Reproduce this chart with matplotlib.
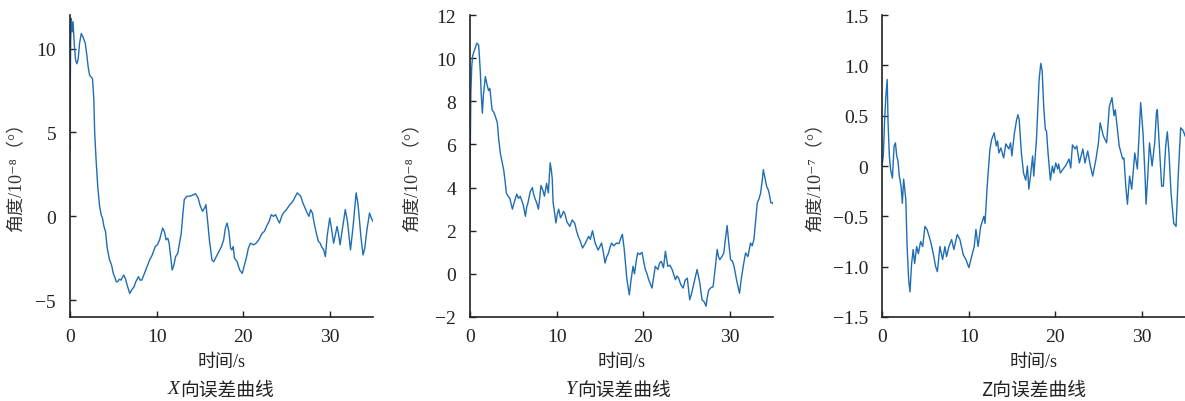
import matplotlib
matplotlib.use('Agg')
import matplotlib.pyplot as plt

# X direction error, unit 1e-8 deg
x_t = [0.0, 0.03, 0.08, 0.15, 0.25, 0.35, 0.5, 0.65, 0.8, 0.95, 1.1, 1.3, 1.5, 1.77, 1.95,
       2.1, 2.27, 2.45, 2.6, 2.75, 2.85, 3.0, 3.2, 3.42, 3.6, 3.75, 3.92, 4.1, 4.3, 4.57,
       4.8, 5.0, 5.15, 5.35, 5.5, 5.7, 5.9, 6.2, 6.4, 6.6, 6.9, 7.1, 7.4, 7.6, 7.9,
       8.1, 8.3, 8.6, 8.9, 9.2, 9.5, 9.85, 10.1, 10.35, 10.55, 10.7, 10.9, 11.1, 11.3, 11.45,
       11.8, 12.0, 12.2, 12.45, 12.65, 12.85, 13.05, 13.2, 13.5, 13.8, 14.1, 14.5, 14.8, 15.0, 15.3,
       15.55, 15.7, 15.9, 16.1, 16.4, 16.6, 16.9, 17.2, 17.5, 17.75, 17.95, 18.15, 18.35, 18.55, 18.7,
       18.85, 19.0, 19.3, 19.6, 19.9, 20.1, 20.4, 20.6, 20.85, 21.2, 21.5, 21.8, 22.0, 22.2, 22.45,
       22.7, 23.0, 23.25, 23.5, 23.75, 24.0, 24.2, 24.45, 24.65, 25.0, 25.4, 25.6, 25.85, 26.05, 26.25,
       26.45, 26.65, 26.9, 27.15, 27.4, 27.6, 27.8, 28.0, 28.2, 28.45, 28.7, 28.9, 29.05, 29.3, 29.5,
       29.7, 30.0, 30.2, 30.45, 30.65, 30.85, 31.0, 31.2, 31.45, 31.8, 32.05, 32.4, 32.7, 33.05, 33.25,
       33.4, 33.6, 33.85, 34.05, 34.3, 34.6, 34.8, 35.0]
x_v = [4.0, 7.5, 10.5, 11.8, 11.0, 11.6, 10.2, 9.3, 9.1, 9.4, 10.3, 10.9, 10.7, 10.3, 9.6,
       8.9, 8.4, 8.3, 8.2, 7.0, 5.0, 3.5, 1.8, 0.6, 0.1, -0.1, -0.6, -0.9, -1.9, -2.6,
       -2.9, -3.4, -3.6, -3.9, -3.9, -3.75, -3.8, -3.5, -3.7, -4.1, -4.6, -4.4, -4.2, -3.9, -3.6,
       -3.8, -3.8, -3.4, -3.0, -2.6, -2.3, -1.8, -1.7, -1.4, -1.0, -0.7, -0.9, -1.4, -1.3, -1.6,
       -3.2, -2.9, -2.4, -2.2, -1.6, -1.0, 0.2, 1.0, 1.2, 1.2, 1.25, 1.35, 1.1, 0.7, 0.3,
       0.5, 0.7, -0.3, -1.4, -2.6, -2.7, -2.4, -2.1, -1.8, -1.4, -0.7, -0.4, -0.9, -1.9, -2.0,
       -1.8, -2.5, -2.7, -3.2, -3.4, -3.0, -2.4, -1.9, -1.6, -1.7, -1.6, -1.4, -1.2, -1.0, -0.9,
       -0.6, -0.3, 0.1, 0.0, 0.1, -0.2, -0.4, 0.0, 0.2, 0.4, 0.7, 0.8, 1.0, 1.2, 1.4,
       1.3, 1.2, 0.8, 0.5, 0.2, 0.0, 0.4, 0.2, -0.4, -1.0, -1.5, -1.6, -1.8, -2.0, -2.4,
       -1.2, -0.1, -0.7, -1.6, -1.1, -0.6, -1.0, -1.7, -0.8, 0.4, -0.3, -2.0, -0.6, 1.4, 0.8,
       0.0, -1.2, -2.3, -1.9, -0.8, 0.2, -0.1, -0.3]

# Y direction error, unit 1e-8 deg
y_t = [0.0, 0.04, 0.1, 0.2, 0.3, 0.45, 0.55, 0.7, 0.8, 1.0, 1.1, 1.2, 1.3, 1.43, 1.55,
       1.77, 1.95, 2.15, 2.3, 2.55, 2.75, 2.93, 3.16, 3.3, 3.5, 3.7, 3.9, 4.05, 4.2, 4.4,
       4.6, 4.9, 5.1, 5.4, 5.6, 5.8, 6.15, 6.4, 6.55, 6.7, 6.95, 7.2, 7.35, 7.5, 7.7,
       7.9, 8.05, 8.2, 8.4, 8.6, 8.85, 9.05, 9.26, 9.4, 9.5, 9.6, 9.75, 9.92, 10.1, 10.25,
       10.45, 10.6, 10.8, 10.95, 11.2, 11.53, 11.8, 12.1, 12.3, 12.5, 12.75, 13.0, 13.3, 13.7, 13.9,
       14.15, 14.45, 14.8, 15.2, 15.4, 15.6, 15.8, 15.97, 16.15, 16.35, 16.6, 16.93, 17.2, 17.5, 17.6,
       17.8, 18.13, 18.4, 18.6, 18.83, 19.0, 19.2, 19.37, 19.6, 19.87, 20.05, 20.25, 20.45, 20.64, 21.03,
       21.2, 21.4, 21.7, 21.9, 22.1, 22.35, 22.57, 22.85, 23.1, 23.35, 23.73, 23.9, 24.1, 24.35, 24.62,
       24.85, 25.1, 25.38, 25.6, 25.77, 26.0, 26.23, 26.54, 26.8, 27.05, 27.27, 27.4, 27.58, 27.8, 28.08,
       28.35, 28.55, 28.7, 28.86, 29.1, 29.32, 29.5, 29.7, 29.9, 30.1, 30.3, 30.5, 30.8, 31.13, 31.35,
       31.56, 31.83, 32.1, 32.4, 32.6, 32.8, 33.0, 33.18, 33.4, 33.57, 33.75, 33.88, 34.05, 34.27, 34.45,
       34.58, 34.75, 34.95, 35.0]
y_v = [2.0, 6.0, 8.4, 9.6, 10.1, 10.3, 10.4, 10.6, 10.7, 10.6, 10.0, 9.3, 8.3, 7.45, 8.3,
       9.15, 8.8, 8.5, 8.6, 7.6, 7.5, 7.3, 7.0, 6.3, 5.6, 5.2, 4.8, 4.3, 3.75, 3.6,
       3.5, 3.0, 3.3, 3.7, 3.5, 3.6, 3.2, 2.67, 3.1, 3.3, 3.8, 4.0, 3.7, 3.5, 3.3,
       3.0, 3.5, 4.1, 3.9, 3.6, 4.2, 3.75, 5.15, 4.8, 4.4, 3.3, 2.9, 2.36, 2.8, 3.0,
       2.6, 2.7, 2.9, 2.8, 2.4, 2.2, 2.5, 2.35, 2.0, 1.74, 1.5, 1.2, 1.4, 1.74, 1.6,
       2.0, 1.43, 1.1, 1.43, 1.0, 0.5, 0.8, 0.93, 1.2, 1.43, 1.3, 1.43, 1.4, 1.74, 1.83,
       1.2, -0.27, -0.97, -0.3, 0.35, 0.0, 0.6, 0.97, 0.9, 1.0, 0.6, 0.2, 0.0, -0.27, -0.66,
       -0.2, 0.35, 0.2, 0.5, 0.58, 0.28, 1.05, 0.35, 0.4, 0.2, -0.27, -0.1, -0.2, -0.5, -0.66,
       -0.3, -0.2, -1.2, -0.9, -0.6, -0.2, 0.2, -0.4, -1.2, -1.3, -1.5, -1.1, -0.75, -0.65, -0.6,
       0.35, 1.13, 0.8, 0.66, 0.8, 0.97, 1.6, 2.24, 1.4, 0.66, 0.6, 0.35, -0.3, -0.9, -0.2,
       0.35, 0.97, 0.8, 1.43, 1.3, 1.6, 2.5, 3.28, 3.5, 3.75, 4.3, 4.83, 4.5, 4.05, 3.9,
       3.68, 3.3, 3.3, 3.25]

# Z direction error, unit 1e-7 deg
z_t = [0.0, 0.15, 0.3, 0.45, 0.6, 0.7, 0.85, 1.0, 1.2, 1.4, 1.55, 1.7, 1.85, 2.0, 2.2,
       2.35, 2.5, 2.75, 2.9, 3.08, 3.23, 3.42, 3.6, 3.77, 4.0, 4.2, 4.46, 4.7, 4.96, 5.2,
       5.45, 5.7, 5.92, 6.2, 6.4, 6.69, 7.0, 7.27, 7.46, 7.73, 8.04, 8.3, 8.69, 9.0, 9.38,
       9.7, 10.04, 10.35, 10.65, 10.85, 11.1, 11.4, 11.77, 11.9, 12.15, 12.46, 12.65, 12.96, 13.2, 13.35,
       13.5, 13.73, 14.05, 14.3, 14.65, 14.85, 15.0, 15.3, 15.55, 15.7, 15.85, 16.1, 16.35, 16.6, 16.8,
       16.96, 17.15, 17.4, 17.53, 17.84, 18.15, 18.34, 18.5, 18.68, 18.87, 19.0, 19.18, 19.45, 19.68, 19.85,
       20.07, 20.3, 20.4, 20.6, 21.0, 21.2, 21.6, 21.8, 22.0, 22.3, 22.5, 22.8, 23.2, 23.45, 23.76,
       24.07, 24.34, 24.72, 25.0, 25.2, 25.56, 25.95, 26.26, 26.56, 26.8, 26.95, 27.4, 27.8, 27.95, 28.16,
       28.35, 28.6, 28.85, 29.2, 29.5, 29.88, 30.15, 30.4, 30.5, 30.7, 30.9, 31.2, 31.5, 31.7, 31.8,
       32.04, 32.3, 32.5, 32.77, 32.96, 33.15, 33.38, 33.7, 33.97, 34.2, 34.5, 34.8, 35.0]
z_v = [0.0, 0.1, 0.45, 0.7, 0.86, 0.43, 0.1, -0.04, -0.12, 0.2, 0.23, 0.1, 0.05, -0.1, -0.2,
       -0.37, -0.13, -0.33, -0.8, -1.13, -1.25, -0.97, -0.83, -0.97, -0.8, -0.87, -0.75, -0.8, -0.6, -0.63,
       -0.7, -0.78, -0.87, -1.0, -1.05, -0.8, -0.93, -0.8, -0.9, -0.8, -0.73, -0.83, -0.68, -0.73, -0.88,
       -0.93, -1.01, -0.9, -0.8, -0.63, -0.8, -0.6, -0.5, -0.57, -0.2, 0.16, 0.26, 0.33, 0.2, 0.25,
       0.13, 0.18, 0.08, 0.22, 0.17, 0.23, 0.1, 0.33, 0.46, 0.51, 0.46, 0.13, -0.07, -0.14, 0.0,
       -0.23, -0.1, 0.1, -0.1, 0.26, 0.86, 1.02, 0.95, 0.59, 0.36, 0.35, 0.13, -0.14, 0.0, -0.07,
       0.03, -0.03, 0.02, -0.07, -0.02, 0.0, 0.07, -0.02, 0.21, 0.17, 0.2, 0.03, 0.17, 0.03, 0.15,
       0.0, -0.1, 0.07, 0.23, 0.43, 0.3, 0.23, 0.59, 0.68, 0.5, 0.56, 0.2, 0.07, 0.08, -0.2,
       -0.38, -0.1, -0.23, 0.13, -0.03, 0.63, 0.33, -0.13, -0.38, -0.1, 0.23, 0.0, 0.23, 0.53, 0.56,
       0.2, -0.2, -0.2, 0.2, 0.34, 0.13, -0.26, -0.57, -0.6, -0.13, 0.38, 0.35, 0.3]

x_ticks = [0, 10, 20, 30]
panel_titles = ['X', 'Y', 'Z向误差曲线']
title_rest = '向误差曲线'
xlabel = '时间/s'
ylabels = ['角度/10⁻⁸（°）', '角度/10⁻⁸（°）', '角度/10⁻⁷（°）']
y_ticks = [[-5, 0, 5, 10], [-2, 0, 2, 4, 6, 8, 10, 12], [-1.5, -1.0, -0.5, 0, 0.5, 1.0, 1.5]]
y_tick_labels = [['−5', '0', '5', '10'],
                 ['−2', '0', '2', '4', '6', '8', '10', '12'],
                 ['−1.5', '−1.0', '−0.5', '0', '0.5', '1.0', '1.5']]
y_lims = [(-6, 12), (-2, 12), (-1.5, 1.5)]

SERIF = ['Liberation Serif', 'DejaVu Serif', 'Noto Sans CJK SC']
CJK = ['Noto Sans CJK SC', 'DejaVu Sans']
LINE_COLOR = '#1f6db3'
TXT = '#222222'

fig = plt.figure(figsize=(11.85, 4.02), dpi=100)
lefts = [70 / 1185, 470 / 1185, 882 / 1185]
ylabel_x = [-0.146, -0.162, -0.191]
title_split = [0.362, 0.352]
series = [(x_t, x_v), (y_t, y_v), (z_t, z_v)]

for i in range(3):
    ax = fig.add_axes([lefts[i], 0.209, 303 / 1185, 0.751])
    t, v = series[i]
    ax.plot(t, v, color=LINE_COLOR, lw=1.0)
    ax.set_xlim(0, 35)
    ax.set_ylim(*y_lims[i])
    ax.set_xticks(x_ticks, labels=[str(k) for k in x_ticks])
    ax.set_yticks(y_ticks[i], labels=y_tick_labels[i])
    for s in ['top', 'right']:
        ax.spines[s].set_visible(False)
    for s in ['left', 'bottom']:
        ax.spines[s].set_linewidth(1.2)
        ax.spines[s].set_color(TXT)
    ax.tick_params(direction='in', length=4, width=1.0, color=TXT)
    ax.tick_params(axis='x', pad=8)
    ax.tick_params(axis='y', pad=10)
    for lab in ax.get_xticklabels() + ax.get_yticklabels():
        lab.set_family(SERIF)
        lab.set_fontsize(14)
        lab.set_color(TXT)

    ax.set_ylabel(ylabels[i], family=SERIF, fontsize=13, color='#333333')
    ax.yaxis.set_label_coords(ylabel_x[i], 0.48)
    ax.text(0.5, -0.149, xlabel, transform=ax.transAxes, ha='center', va='center',
            family=SERIF, fontsize=13, color=TXT)
    if i < 2:
        ax.text(title_split[i], -0.238, panel_titles[i], transform=ax.transAxes, ha='right',
                va='center', family=SERIF, style='italic', fontsize=14, color=TXT)
        ax.text(title_split[i], -0.238, title_rest, transform=ax.transAxes, ha='left',
                va='center', family=CJK, fontsize=13.5, color=TXT)
    else:
        ax.text(0.5, -0.238, panel_titles[i], transform=ax.transAxes, ha='center', va='center',
                family=CJK, fontsize=13.5, color=TXT)

fig.savefig('out.png', dpi=100)
